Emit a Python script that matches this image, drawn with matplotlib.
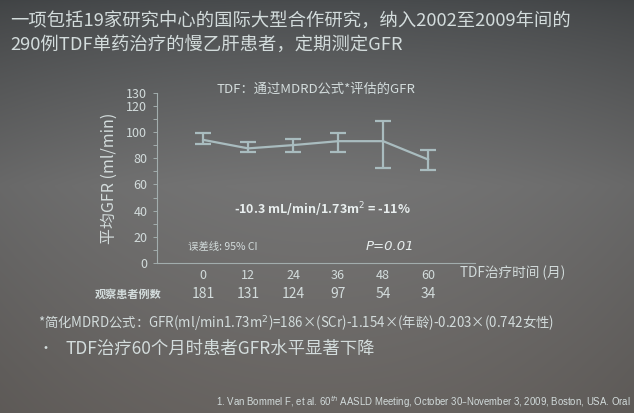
import numpy as np
import matplotlib
matplotlib.use('Agg')
from matplotlib import pyplot as plt

plt.rcParams['font.family'] = ['Noto Sans CJK SC', 'DejaVu Sans']
plt.rcParams['axes.unicode_minus'] = False

# 数据
months = [0, 12, 24, 36, 48, 60]
gfr_mean = [94, 87.5, 90, 93, 93, 79]
ci_low = [91, 84.5, 85, 84.5, 72.5, 71]
ci_high = [99, 92.5, 94.5, 99.5, 108.5, 86]
n_patients = [181, 131, 124, 97, 54, 34]
y_ticks = list(range(0, 140, 10))
y_labels = ['0', '', '20', '', '40', '', '60', '', '80', '', '100', '', '120', '130']

txt = '#d3dcdc'
line_c = '#a9bcbf'

fig = plt.figure(figsize=(6.34, 4.13), dpi=100)

# 背景：投影照片的明暗渐变
bg = fig.add_axes([0, 0, 1, 1], zorder=-10)
h, w = 413, 634
yy = np.linspace(0, 1, h)[:, None]
xx = np.linspace(0, 1, w)[None, :]
top = np.array([72, 75, 77]) / 255
mid = np.array([116, 116, 116]) / 255
bot = np.array([104, 100, 97]) / 255
t1 = np.clip(yy / 0.45, 0, 1)
t2 = np.clip((yy - 0.45) / 0.55, 0, 1)
col = top + (mid - top) * t1[..., None] ** 0.8
col = col + (bot - mid) * t2[..., None]
shade = 1 - 0.10 * ((xx - 0.5) / 0.5) ** 2
img = np.clip(col * shade[..., None], 0, 1)
bg.imshow(img, aspect='auto', extent=[0, 1, 0, 1])
bg.axis('off')

# 标题
fig.text(10 / w, 1 - 22 / h, '一项包括19家研究中心的国际大型合作研究，纳入2002至2009年间的',
         color=txt, fontsize=13.2, va='center', ha='left')
fig.text(10 / w, 1 - 46 / h, '290例TDF单药治疗的慢乙肝患者，定期测定GFR',
         color=txt, fontsize=13.2, va='center', ha='left')

# 图表区
ax = fig.add_axes([157 / w, 1 - 263 / h, 318 / w, 170.3 / h])
ax.patch.set_alpha(0)
yerr = [np.array(gfr_mean) - np.array(ci_low), np.array(ci_high) - np.array(gfr_mean)]
ax.errorbar(months, gfr_mean, yerr=yerr, color=line_c, lw=1.6, elinewidth=1.6,
            capsize=5.8, capthick=1.6)
ax.set_xlim(-12.3, 72.5)
ax.set_ylim(0, 130)
for s in ['top', 'right']:
    ax.spines[s].set_visible(False)
for s in ['left', 'bottom']:
    ax.spines[s].set_color('#a2adad')
    ax.spines[s].set_linewidth(0.8)
ax.set_yticks(y_ticks)
ax.set_yticklabels(y_labels)
ax.tick_params(axis='y', colors='#a2adad', length=3, width=0.7, pad=4,
               labelcolor=txt, labelsize=9)
ax.set_xticks(months)
ax.set_xticklabels([str(m) for m in months])
ax.tick_params(axis='x', length=0, pad=4, labelcolor=txt, labelsize=9)
ax.set_ylabel('平均GFR (ml/min)', color=txt, fontsize=11.5, labelpad=6)

ax.set_title('TDF：通过MDRD公式*评估的GFR', color=txt, fontsize=9.5, pad=0, y=1.0)

ax.text(0.52, 0.315, '-10.3 mL/min/1.73m$^2$ = -11%', transform=ax.transAxes,
        ha='center', va='center', color='#e8eeee', fontsize=9, fontweight='bold')
ax.text(31 / 318, 16 / 170.3, '误差线: 95% CI', transform=ax.transAxes,
        ha='left', va='center', color=txt, fontsize=7.5)
ax.text(233 / 318, 16 / 170.3, 'P=0.01', transform=ax.transAxes,
        ha='center', va='center', color='#e8eeee', fontsize=9.5, style='italic',
        family='DejaVu Sans')

fig.text(460 / w, 1 - 273 / h, 'TDF治疗时间 (月)', color=txt, fontsize=9.8,
         ha='left', va='center')

# 观察患者例数
fig.text(95 / w, 1 - 294 / h, '观察患者例数', color=txt, fontsize=8,
         ha='left', va='center', fontweight='bold')
for m, n in zip(months, n_patients):
    xf = fig.transFigure.inverted().transform(ax.transData.transform((m, 0)))[0]
    fig.text(xf, 1 - 294 / h, str(n), color=txt, fontsize=10,
             ha='center', va='center')

# 脚注与要点
fig.text(38 / w, 1 - 322 / h,
         '*简化MDRD公式：GFR(ml/min1.73m$^2$)=186×(SCr)-1.154×(年龄)-0.203×(0.742女性)',
         color=txt, fontsize=9.6, ha='left', va='center')
fig.text(38 / w, 1 - 349 / h, '•', color=txt, fontsize=10, ha='left', va='center')
fig.text(65 / w, 1 - 349 / h, 'TDF治疗60个月时患者GFR水平显著下降', color=txt,
         fontsize=12.5, ha='left', va='center')
fig.text(216 / w, 1 - 402 / h,
         '1. Van Bommel F, et al. 60$^{th}$ AASLD Meeting, October 30–November 3, 2009, Boston, USA. Oral',
         color=txt, fontsize=6.9, ha='left', va='center', family='Liberation Sans')

fig.savefig('out.png', dpi=100)
